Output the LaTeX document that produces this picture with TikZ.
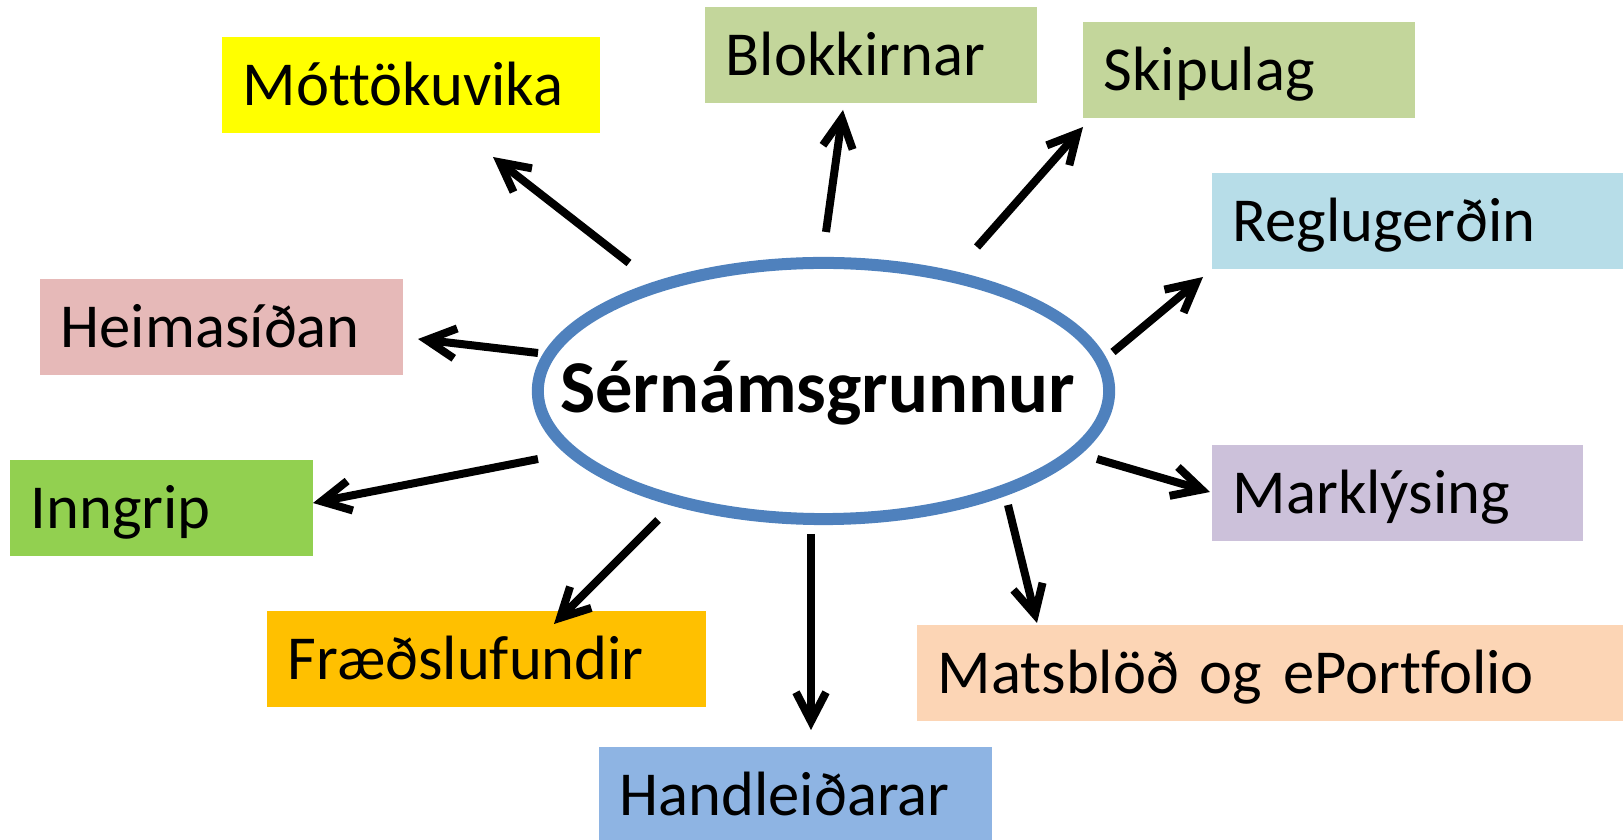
\documentclass[tikz,border=0pt]{standalone}
\usepackage{fontspec}
\setmainfont[Ligatures={NoCommon}]{Carlito}
\usetikzlibrary{arrows.meta,shapes.geometric}
\definecolor{cYellow}{HTML}{FFFF00}
\definecolor{cOlive}{HTML}{C3D69B}
\definecolor{cAqua}{HTML}{B7DDE8}
\definecolor{cRose}{HTML}{E6B9B8}
\definecolor{cLime}{HTML}{92D050}
\definecolor{cLav}{HTML}{CCC1DA}
\definecolor{cOrange}{HTML}{FFC000}
\definecolor{cPeach}{HTML}{FCD5B5}
\definecolor{cSky}{HTML}{8EB4E3}
\definecolor{cHub}{HTML}{4F81BD}
\begin{document}
\begin{tikzpicture}[x=0.01cm,y=-0.01cm,
  lbox/.style={fill=#1, anchor=north west, inner xsep=0.21cm, inner ysep=0pt,
    minimum height=0.965cm, text height=0.44cm, text depth=0.02cm, align=left,
    font=\fontsize{17.8pt}{20pt}\selectfont},
  hub/.style={ellipse, draw=cHub, line width=0.12cm, minimum width=5.71cm,
    minimum height=2.56cm, inner sep=0pt},
  hubtext/.style={anchor=base, inner sep=0pt,
    font=\fontsize{21.2pt}{24pt}\selectfont\bfseries},
  arr/.style={line width=0.08cm, -{Straight Barb[length=0.29cm,width=0.30cm]}}
]
\useasboundingbox (0,0) rectangle (1623,840);

% boxes
\node[lbox=cYellow, text width=3.36cm] (mott) at (221,36) {Móttökuvika};
\node[lbox=cOlive, text width=2.90cm] (blok) at (704,6) {Blokkirnar};
\node[lbox=cOlive, text width=2.90cm] (skip) at (1082,21) {Skipulag};
\node[lbox=cAqua, text width=3.70cm] (regl) at (1211,172) {Reglugerðin};
\node[lbox=cRose, text width=3.21cm] (heim) at (39,278) {Heimasíðan};
\node[lbox=cLime, text width=2.61cm] (inng) at (9,459) {Inngrip};
\node[lbox=cLav, text width=3.29cm] (mark) at (1211,444) {Marklýsing};
\node[lbox=cOrange, text width=3.97cm] (fraed) at (266,610) {Fræðslufundir};
\node[lbox=cPeach, text width=6.65cm] (mats) at (916,624) {Matsblöð og ePortfolio};
\node[lbox=cSky, text width=3.51cm] (hand) at (598,746) {Handleiðarar};

% hub
\node[hub] (hub) at (823.5,391) {};
\node[hubtext] (hubt) at (817.5,413) {Sérnámsgrunnur};

% arrow end points
\coordinate (s1) at (629,263);  \coordinate (e1) at (493,157);
\coordinate (s2) at (826,232);  \coordinate (e2) at (843,110);
\coordinate (s3) at (977,247);  \coordinate (e3) at (1083,127);
\coordinate (s4) at (1113,352); \coordinate (e4) at (1203,277);
\coordinate (s5) at (538,353);  \coordinate (e5) at (418,339);
\coordinate (s6) at (538,459);  \coordinate (e6) at (313,503);
\coordinate (s7) at (1097,459); \coordinate (e7) at (1210,492);
\coordinate (s8) at (658,520);  \coordinate (e8) at (554,624);
\coordinate (s9) at (811,534);  \coordinate (e9) at (811,730);
\coordinate (s10) at (1008,505); \coordinate (e10) at (1037,623);

\foreach \i in {1,...,10} {\draw[arr] (s\i) -- (e\i);}
\end{tikzpicture}
\end{document}
